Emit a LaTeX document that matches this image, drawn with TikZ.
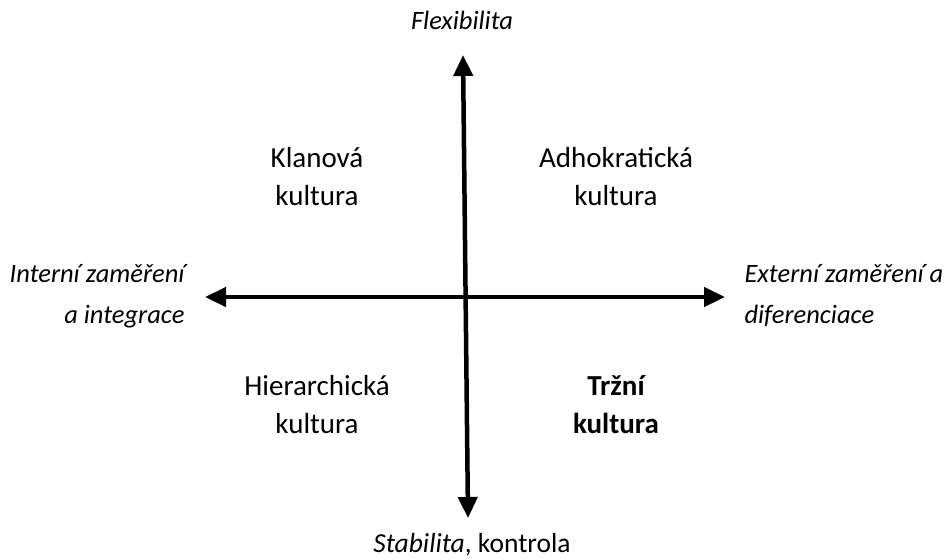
\documentclass[tikz,border=0pt]{standalone}
\usepackage{fontspec}
\setmainfont{Carlito}
\usetikzlibrary{arrows.meta}
\begin{document}
\begin{tikzpicture}[x=1pt,y=-1pt,
  axis/.style={line width=4.5pt,{Triangle[length=21pt,width=19pt]}-{Triangle[length=21pt,width=19pt]}},
  quad/.style={font=\fontsize{29}{38}\selectfont,align=center},
  lab/.style={font=\fontsize{26.5}{41}\selectfont\itshape}]
\useasboundingbox (0,0) rectangle (946,558);
\coordinate (top) at (463,55);
\coordinate (bot) at (468,518);
\coordinate (lft) at (205,297);
\coordinate (rgt) at (725,297);
\draw[axis] (bot) -- (top);
\draw[axis] (lft) -- (rgt);
\node[lab] (flex) at (462,20) {Flexibilita};
\node[lab,font=\fontsize{27.5}{41}\selectfont\itshape] (stab) at (472,545) {Stabilita\upshape, kontrola};
\node[lab,align=right,anchor=east] (int) at (188,296) {Interní zaměření\\a integrace};
\node[lab,align=left,anchor=west] (ext) at (741,296) {Externí zaměření a\\diferenciace};
\node[quad] (klan) at (317,177) {Klanová\\kultura};
\node[quad] (adho) at (616,177) {Adhokratická\\kultura};
\node[quad] (hier) at (317,405) {Hierarchická\\kultura};
\node[quad,font=\fontsize{29}{38}\selectfont\bfseries] (trz) at (616,405) {Tržní\\kultura};
\end{tikzpicture}
\end{document}
